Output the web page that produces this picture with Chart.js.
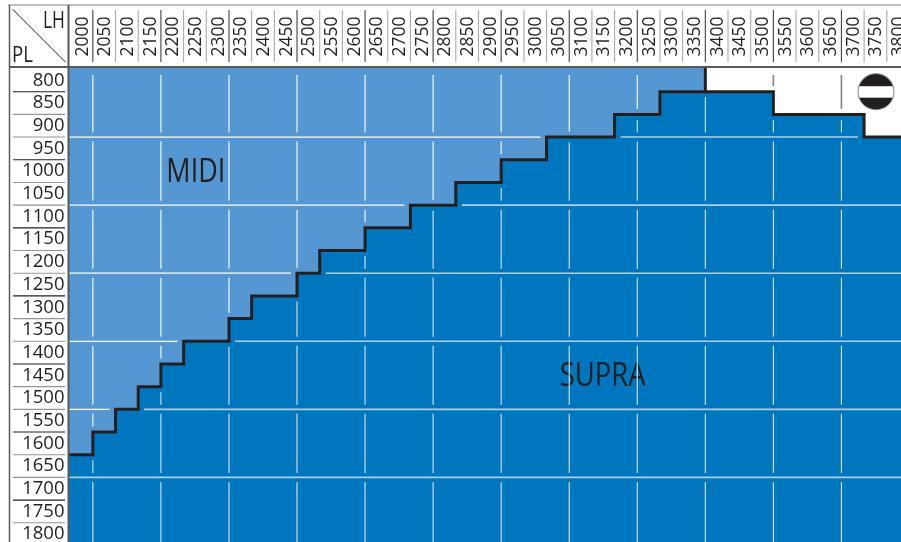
<!DOCTYPE html>
<html>
<head>
<meta charset="utf-8">
<style>
html, body { margin: 0; padding: 0; background: #fff; overflow: hidden; }
canvas { display: block; }
</style>
<script src="https://cdn.jsdelivr.net/npm/chart.js@4"></script>
</head>
<body>
<canvas id="chart" width="901" height="542"></canvas>
<script>
// LH = columns, PL = rows
const lhValues = [2000, 2050, 2100, 2150, 2200, 2250, 2300, 2350, 2400, 2450, 2500, 2550, 2600, 2650, 2700, 2750, 2800, 2850, 2900, 2950, 3000, 3050, 3100, 3150, 3200, 3250, 3300, 3350, 3400, 3450, 3500, 3550, 3600, 3650, 3700, 3750, 3800];
const plValues = [800, 850, 900, 950, 1000, 1050, 1100, 1150, 1200, 1250, 1300, 1350, 1400, 1450, 1500, 1550, 1600, 1650, 1700, 1750, 1800];
// last PL row above the stepped border, per LH column
const borderPL = [1600, 1550, 1500, 1450, 1400, 1350, 1350, 1300, 1250, 1250, 1200, 1150, 1150, 1100, 1100, 1050, 1050, 1000, 1000, 950, 950, 900, 900, 900, 850, 850, 800, 800, 800, 800, 800, 850, 850, 850, 850, 900, 900];
const lastMidiLH = 3350;
const ruleLH = [2000, 2150, 2300, 2450, 2600, 2750, 2900, 3050, 3200, 3350, 3500, 3650];
const rulePL = [900, 1050, 1200, 1350, 1500, 1650];
const regionLabels = [{ text: 'MIDI', lh: 2187, pl: 1004, w: 59 }, { text: 'SUPRA', lh: 3054, pl: 1453, w: 86 }];

const xMin = 1971.3, xMax = 3806.3, yMin = 771.7, yMax = 1817.3;
const midiColor = '#5497d3', supraColor = '#0076bf', ink = '#231f20';
const half = 25;

const stepPoints = lhValues.map((lh, i) => ({ x: i ? lh - half : xMin, y: borderPL[i] + half }));
stepPoints.push({ x: xMax, y: borderPL[borderPL.length - 1] + half });

const midiCount = lhValues.indexOf(lastMidiLH) + 1;
const midiPoints = stepPoints.slice(0, midiCount);
midiPoints.push({ x: lastMidiLH + half, y: borderPL[midiCount - 1] + half });

const ruleGap = 4.5;

function line(ctx, x1, y1, x2, y2, color, width) {
    ctx.strokeStyle = color;
    ctx.lineWidth = width;
    ctx.beginPath();
    ctx.moveTo(x1, y1);
    ctx.lineTo(x2, y2);
    ctx.stroke();
}

function noPadding(axis) {
    axis.paddingLeft = axis.paddingRight = axis.paddingTop = axis.paddingBottom = 0;
}

const tablePlugin = {
    id: 'table',
    afterDatasetsDraw(chart) {
        const ctx = chart.ctx, x = chart.scales.x, y = chart.scales.y;
        const area = chart.chartArea;
        ctx.save();

        // region names sit under the rules
        ctx.fillStyle = ink;
        ctx.textBaseline = 'middle';
        ctx.textAlign = 'left';
        ctx.font = '33px "Open Sans"';
        regionLabels.forEach(l => {
            ctx.fillText(l.text, x.getPixelForValue(l.lh), y.getPixelForValue(l.pl), l.w);
        });

        // horizontal rules, broken where the border runs along them
        rulePL.forEach(pl => {
            const py = y.getPixelForValue(pl + half);
            let start = area.left, kind = null;
            const flush = (end) => {
                if (kind && kind !== 'gap' && end > start) {
                    line(ctx, start, py, end, py, kind === 'midi' ? '#ffffff' : '#a8d2ee', kind === 'midi' ? 1.2 : 1.6);
                }
            };
            lhValues.forEach((lh, i) => {
                const k = borderPL[i] === pl ? 'gap' : (borderPL[i] > pl ? 'midi' : 'supra');
                if (k !== kind) {
                    const edge = x.getPixelForValue(lh - half);
                    flush(k === 'gap' ? edge - 6 : edge);
                    start = kind === 'gap' ? edge + 6 : (i ? edge : area.left);
                    kind = k;
                }
            });
            flush(area.right);
        });

        // vertical rules
        const bands = [];
        let top = area.top + 7.5;
        rulePL.forEach(pl => {
            const py = y.getPixelForValue(pl + half);
            bands.push([top, py - ruleGap]);
            top = py + ruleGap;
        });
        bands.push([top, area.bottom]);

        ruleLH.forEach(lh => {
            const i = lhValues.indexOf(lh);
            const px = x.getPixelForValue(lh + half);
            const a = y.getPixelForValue(borderPL[i] + half);
            const b = y.getPixelForValue(borderPL[i + 1] + half);
            const above = Math.min(a, b) - ruleGap - 1, below = Math.max(a, b) + ruleGap + 1;
            bands.forEach(band => {
                const upEnd = Math.min(band[1], above);
                if (upEnd - band[0] > 1 && lh !== lastMidiLH) {
                    if (lh < lastMidiLH) line(ctx, px, band[0], px, upEnd, '#ffffff', 1.1);
                    else line(ctx, px, band[0], px, upEnd, '#808285', 1.6);
                }
                const downStart = Math.max(band[0], below);
                if (band[1] - downStart > 1) line(ctx, px, downStart, px, band[1], '#d2e8f6', 1.1);
            });
        });

        // header frame
        const frame = '#58595b', soft = '#a7a9ac';
        line(ctx, 8, 5, area.right, 5, soft, 1.5);
        line(ctx, 9.5, 5, 9.5, area.bottom, frame, 1.5);
        line(ctx, area.left, 5, area.left, area.bottom, frame, 2);
        line(ctx, 9, 67, area.right, 67, frame, 2);
        line(ctx, 12.7, 9.3, 65.7, 62.3, ink, 1);

        lhValues.forEach(lh => {
            const px = x.getPixelForValue(lh + half);
            line(ctx, px, 10, px, 62, ruleLH.includes(lh) ? '#414042' : soft, 1.1);
        });
        plValues.forEach((pl, i) => {
            const py = y.getPixelForValue(pl + half);
            if (py < area.bottom - 2) line(ctx, 13, py, 65, py, i % 3 === 0 ? ink : '#939598', 1.1);
        });

        ctx.fillStyle = ink;
        ctx.textBaseline = 'alphabetic';
        ctx.font = '23px "Open Sans"';
        ctx.fillText('LH', 43, 28, 22);
        ctx.font = '22px "Open Sans"';
        ctx.fillText('PL', 12, 62, 21);

        // no-entry sign in the white corner
        const signX = 876, signY = 91.7;
        ctx.beginPath();
        ctx.arc(signX, signY, 18, 0, Math.PI * 2);
        ctx.fillStyle = ink;
        ctx.fill();
        ctx.strokeStyle = '#808285';
        ctx.lineWidth = 1;
        ctx.stroke();
        ctx.save();
        ctx.beginPath();
        ctx.arc(signX, signY, 17.6, 0, Math.PI * 2);
        ctx.clip();
        ctx.fillStyle = '#fff';
        ctx.fillRect(signX - 20, signY - 5.5, 40, 11.5);
        ctx.restore();

        ctx.restore();
    }
};

new Chart(document.getElementById('chart'), {
    type: 'line',
    data: {
        datasets: [
            {
                label: 'MIDI',
                data: midiPoints,
                order: 3,
                stepped: true,
                borderWidth: 0,
                pointRadius: 0,
                backgroundColor: midiColor,
                fill: 'end'
            },
            {
                label: 'SUPRA',
                data: stepPoints,
                order: 2,
                stepped: true,
                borderColor: ink,
                borderWidth: 3,
                borderJoinStyle: 'miter',
                pointRadius: 0,
                backgroundColor: supraColor,
                fill: 'start'
            },
            {
                label: 'limit',
                data: [{ x: lastMidiLH + half, y: yMin }, { x: lastMidiLH + half, y: borderPL[midiCount - 1] + half }],
                order: 1,
                borderColor: ink,
                borderWidth: 3,
                pointRadius: 0,
                fill: false
            }
        ]
    },
    plugins: [tablePlugin],
    options: {
        responsive: false,
        animation: false,
        layout: { padding: 0, autoPadding: false },
        plugins: { legend: { display: false }, tooltip: { enabled: false } },
        scales: {
            x: {
                type: 'linear',
                position: 'top',
                min: xMin,
                max: xMax,
                border: { display: false },
                grid: { display: false, drawTicks: false },
                afterBuildTicks(axis) { axis.ticks = lhValues.map(v => ({ value: v })); },
                afterFit(axis) { axis.height = 67.5; noPadding(axis); },
                ticks: {
                    autoSkip: false,
                    minRotation: 90,
                    maxRotation: 90,
                    padding: 11,
                    labelOffset: 22,
                    color: ink,
                    font: { family: '"Open Sans"', size: 17.5 },
                    callback: v => String(v)
                }
            },
            y: {
                type: 'linear',
                reverse: true,
                min: yMin,
                max: yMax,
                border: { display: false },
                grid: { display: false, drawTicks: false },
                afterBuildTicks(axis) { axis.ticks = plValues.map(v => ({ value: v })); },
                afterFit(axis) { axis.width = 68.5; noPadding(axis); },
                ticks: {
                    autoSkip: false,
                    padding: 4,
                    color: ink,
                    font: { family: '"Open Sans"', size: 18.5 },
                    callback: v => String(v)
                }
            }
        }
    }
});
</script>
</body>
</html>
